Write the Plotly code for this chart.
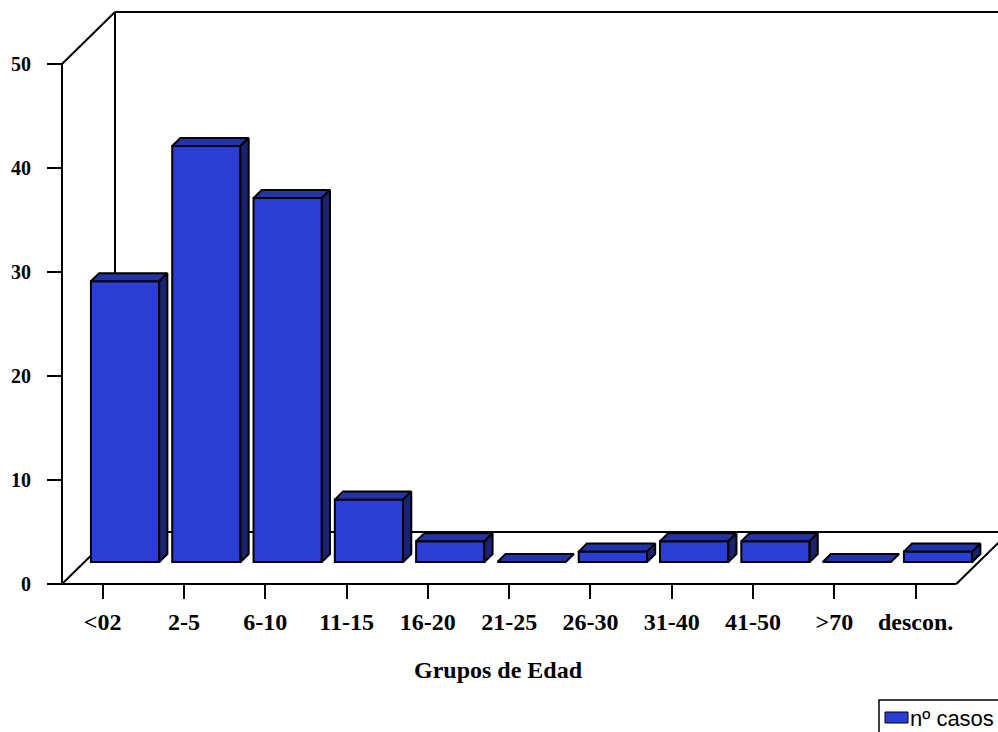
import plotly.graph_objects as go

# Age groups and number of cases
categorias = ["<02", "2-5", "6-10", "11-15", "16-20", "21-25", "26-30",
              "31-40", "41-50", ">70", "descon."]
casos = [27, 40, 35, 6, 2, 0, 1, 2, 2, 0, 1]
ticks_y = [0, 10, 20, 30, 40, 50]
serie = "nº casos"
titulo_x = "Grupos de Edad"

# Page / plot geometry (pixels)
W, H = 998, 732
X0_PX, Y0_PX = 62, 584          # front-left corner of the floor
SLOT_PX = 81.3                  # width of one category slot
UNIT_PX = 10.4                  # pixels per value unit
DEPTH_PX = (53, 52)             # oblique depth of the floor / back wall
YMAX = 55                       # top of the back wall in value units

# Data-unit equivalents of the oblique depth
DX = DEPTH_PX[0] / SLOT_PX
DY = DEPTH_PX[1] / UNIT_PX
BAR_FRONT = 0.423               # bar front face depth (fraction of floor depth)
BAR_DEPTH = 0.154               # bar depth (fraction of floor depth)
BAR_W = 0.84

FRONT = "#2b3ed3"
TOP = "#2334a6"
SIDE = "#1a2370"
EDGE = "black"
LW = 2

n = len(categorias)
x_lo = -0.5 - X0_PX / SLOT_PX
x_hi = x_lo + W / SLOT_PX
y_lo = -(H - Y0_PX) / UNIT_PX
y_hi = Y0_PX / UNIT_PX

fx, fy = BAR_FRONT * DX, BAR_FRONT * DY
bdx, bdy = BAR_DEPTH * DX, BAR_DEPTH * DY

fig = go.Figure()

# Front faces of the columns
fig.add_trace(go.Bar(
    x=[i + fx for i in range(n)],
    y=casos,
    base=[fy] * n,
    width=BAR_W,
    marker=dict(color=FRONT, line=dict(color=EDGE, width=LW)),
    showlegend=False,
    hoverinfo="skip",
))

# Top and side faces
for i, v in enumerate(casos):
    xl = i + fx - BAR_W / 2
    xr = i + fx + BAR_W / 2
    top = fy + v
    fig.add_trace(go.Scatter(
        x=[xl, xr, xr + bdx, xl + bdx, xl],
        y=[top, top, top + bdy, top + bdy, top],
        fill="toself", fillcolor=TOP, mode="lines",
        line=dict(color=EDGE, width=LW),
        showlegend=False, hoverinfo="skip",
    ))
    if v > 0:
        fig.add_trace(go.Scatter(
            x=[xr, xr + bdx, xr + bdx, xr, xr],
            y=[fy, fy + bdy, top + bdy, top, fy],
            fill="toself", fillcolor=SIDE, mode="lines",
            line=dict(color=EDGE, width=LW),
            showlegend=False, hoverinfo="skip",
        ))

# Walls and floor outline
xa, xb = -0.5, n - 0.5
frame = [
    (xa, 0, xa, 50),                 # front vertical axis
    (xa, 0, xb, 0),                  # front floor edge
    (xa, 50, xa + DX, YMAX),         # upper left diagonal
    (xa, 0, xa + DX, DY),            # lower left diagonal
    (xb, 0, xb + DX, DY),            # right floor diagonal
    (xa + DX, DY, xa + DX, YMAX),    # back wall left edge
    (xa + DX, YMAX, xb + DX, YMAX),  # back wall top edge
    (xa + DX, DY, xb + DX, DY),      # floor back edge
]
for x0, y0, x1, y1 in frame:
    fig.add_shape(type="line", xref="x", yref="y", x0=x0, y0=y0, x1=x1, y1=y1,
                  line=dict(color=EDGE, width=LW), layer="below")

serif = dict(family="Liberation Serif, Times New Roman, serif", color="black",
             weight="bold")

fig.update_xaxes(
    range=[x_lo, x_hi], anchor="free", position=(H - Y0_PX) / H,
    tickvals=list(range(n)), ticktext=categorias,
    ticks="outside", ticklen=14, tickwidth=LW, tickcolor=EDGE,
    tickfont=dict(size=24, **serif), ticklabelstandoff=2,
    showgrid=False, zeroline=False, showline=False,
)
fig.update_yaxes(
    range=[y_lo, y_hi], anchor="free", position=X0_PX / W,
    tickvals=ticks_y, ticks="outside", ticklen=15, tickwidth=LW,
    tickcolor=EDGE, tickfont=dict(size=20, **serif), ticklabelstandoff=12,
    showgrid=False, zeroline=False, showline=False,
)

# Axis title
fig.add_annotation(x=498 / W, y=1 - 670 / H, xref="paper", yref="paper",
                   text=titulo_x, showarrow=False,
                   font=dict(size=24, **serif), xanchor="center", yanchor="middle")

# Legend box
fig.add_shape(type="rect", xref="paper", yref="paper",
              x0=879 / W, x1=1.05, y0=-0.05, y1=1 - 700 / H,
              line=dict(color=EDGE, width=1.5), fillcolor="white")
fig.add_shape(type="rect", xref="paper", yref="paper",
              x0=885 / W, x1=908 / W, y0=1 - 723 / H, y1=1 - 712 / H,
              line=dict(color=EDGE, width=1), fillcolor=FRONT)
fig.add_annotation(x=908 / W, y=1 - 718 / H, xref="paper", yref="paper",
                   text=serie, showarrow=False, xanchor="left", yanchor="middle",
                   font=dict(size=22, family="Liberation Sans, Arial, sans-serif",
                             color="black"))

fig.update_layout(
    width=W, height=H,
    margin=dict(l=0, r=0, t=0, b=0, autoexpand=False),
    paper_bgcolor="white", plot_bgcolor="white",
    barmode="overlay", showlegend=False,
)

fig.write_html("out.html")
